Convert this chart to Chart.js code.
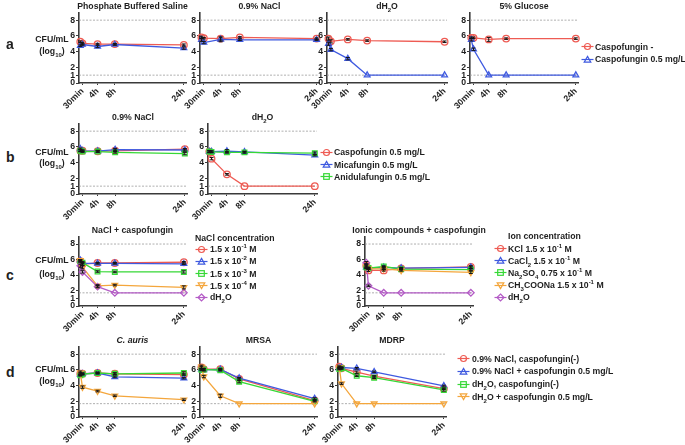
<!DOCTYPE html>
<html>
<head>
<meta charset="utf-8">
<script src="https://cdn.jsdelivr.net/npm/chart.js@4.4.1/dist/chart.umd.min.js"></script>
<style>
  body { margin: 0; background: #fff; }
  #fig { position: relative; width: 685px; height: 445px; overflow: hidden;
         font-family: "Liberation Sans", Arial, sans-serif; font-weight: bold; color: #1e1e1e; }
  #fig canvas { position: absolute; }
  .t { position: absolute; white-space: nowrap; font-size: 8.7px; line-height: 10px; }
  .ttl { position: absolute; width: 200px; white-space: nowrap; text-align: center; font-size: 8.7px; line-height: 10px; }
  .panel { position: absolute; font-size: 14px; line-height: 14px; }
  .ylab { position: absolute; width: 40px; text-align: center; font-size: 8.7px; line-height: 10px; }
  .ic { position: absolute; height: 9px; }
  .ic svg { display: block; }
  sub, sup { font-size: 6px; line-height: 0; }
</style>
</head>
<body>
<div id="fig"></div>
<script>
// time axis (hours) and tick labels
const times = [0, 0.5, 4, 8, 24];
const tickVals = [0.5, 4, 8, 24];
const tickLabels = ['30min', '4h', '8h', '24h'];
const yTicks = [0, 1, 2, 4, 6, 8];
const limitAB = [1, 8];
const limitCD = [1.7, 8];

// a: caspofungin -, caspofungin 0.5 mg/L
const pbsNone = [5.25, 5.05, 4.95, 4.95, 4.85], pbsNoneErr = [0.1, 0.12, 0.1, 0.1, 0.12];
const pbsCas = [4.75, 4.9, 4.65, 4.9, 4.45], pbsCasErr = [0.1, 0.1, 0.15, 0.1, 0.15];
const salNone = [5.8, 5.7, 5.65, 5.8, 5.65], salNoneErr = [0.15, 0.1, 0.2, 0.1, 0.1];
const salCas = [5.5, 5.15, 5.55, 5.5, 5.5], salCasErr = [0.2, 0.15, 0.3, 0.1, 0.1];
const dwNone = [5.65, 5.3, 5.55, 5.4, 5.25], dwNoneErr = [0.2, 0.2, 0.1, 0.1, 0.1];
const dwCas = [5.0, 4.25, 3.1, 1, 1], dwCasErr = [0.2, 0.15, 0.15, 0, 0];
const gluNone = [5.75, 5.75, 5.55, 5.65, 5.65], gluNoneErr = [0.1, 0.1, 0.25, 0.1, 0.1];
const gluCas = [5.5, 4.3, 1, 1, 1], gluCasErr = [0.15, 0.15, 0, 0, 0];

// b: echinocandins
const salCaspo = [5.55, 5.5, 5.45, 5.5, 5.7], salCaspoErr = [0.15, 0.1, 0.1, 0.1, 0.1];
const salMica = [5.75, 5.5, 5.45, 5.65, 5.6], salMicaErr = [0.1, 0.1, 0.1, 0.15, 0.15];
const salAnid = [5.5, 5.4, 5.4, 5.3, 5.15], salAnidErr = [0.1, 0.1, 0.1, 0.1, 0.15];
const dwCaspo = [5.4, 4.5, 2.5, 1, 1], dwCaspoErr = [0.1, 0.15, 0.1, 0, 0];
const dwMica = [5.4, 5.4, 5.45, 5.35, 4.95], dwMicaErr = [0.15, 0.1, 0.2, 0.1, 0.1];
const dwAnid = [5.4, 5.35, 5.3, 5.3, 5.2], dwAnidErr = [0.1, 0.1, 0.1, 0.1, 0.15];

// c: NaCl concentration
const nacl1 = [5.8, 5.4, 5.55, 5.55, 5.65], nacl1Err = [0.15, 0.2, 0.1, 0.1, 0.1];
const nacl2 = [5.9, 5.5, 5.5, 5.5, 5.45], nacl2Err = [0.1, 0.2, 0.1, 0.1, 0.1];
const nacl3 = [5.8, 5.6, 4.45, 4.4, 4.4], nacl3Err = [0.1, 0.1, 0.1, 0.1, 0.15];
const nacl4 = [5.9, 5.0, 2.6, 2.7, 2.4], nacl4Err = [0.1, 0.2, 0.15, 0.1, 0.2];
const naclDw = [5.2, 4.4, 2.5, 1.7, 1.7], naclDwErr = [0.2, 0.15, 0.15, 0, 0];
// c: ion concentration
const ionKcl = [5.2, 4.6, 4.6, 4.85, 5.05], ionKclErr = [0.2, 0.15, 0.1, 0.1, 0.15];
const ionCacl2 = [5.0, 4.9, 5.0, 4.9, 5.0], ionCacl2Err = [0.2, 0.1, 0.1, 0.1, 0.15];
const ionNa2so4 = [5.0, 4.9, 5.1, 4.75, 4.7], ionNa2so4Err = [0.15, 0.1, 0.1, 0.1, 0.1];
const ionAcetate = [5.2, 4.8, 4.8, 4.6, 4.35], ionAcetateErr = [0.2, 0.1, 0.1, 0.1, 0.15];
const ionDw = [5.6, 2.6, 1.7, 1.7, 1.7], ionDwErr = [0.15, 0.1, 0, 0, 0];

// d: other pathogens
const aurNacl = [5.5, 5.5, 5.6, 5.5, 5.4], aurNaclErr = [0.15, 0.1, 0.1, 0.15, 0.1];
const aurNaclCas = [5.4, 5.5, 5.6, 5.1, 4.95], aurNaclCasErr = [0.1, 0.1, 0.1, 0.1, 0.1];
const aurDw = [5.3, 5.45, 5.6, 5.5, 5.6], aurDwErr = [0.1, 0.1, 0.1, 0.1, 0.15];
const aurDwCas = [5.65, 3.8, 3.3, 2.7, 2.2], aurDwCasErr = [0.2, 0.15, 0.1, 0.1, 0.1];
const mrsaNacl = [6.3, 6.1, 6.1, 4.85, 2.1], mrsaNaclErr = [0.15, 0.1, 0.1, 0.15, 0.1];
const mrsaNaclCas = [6.1, 6.0, 6.05, 4.95, 2.35], mrsaNaclCasErr = [0.1, 0.15, 0.1, 0.1, 0.1];
const mrsaDw = [6.0, 6.05, 5.95, 4.5, 2.0], mrsaDwErr = [0.1, 0.1, 0.1, 0.15, 0.1];
const mrsaDwCas = [6.4, 5.15, 2.7, 1.7, 1.7], mrsaDwCasErr = [0.2, 0.15, 0.2, 0, 0];
const mdrpNacl = [6.4, 6.2, 5.7, 5.2, 3.6], mdrpNaclErr = [0.1, 0.1, 0.15, 0.1, 0.1];
const mdrpNaclCas = [6.2, 6.3, 6.2, 5.75, 3.95], mdrpNaclCasErr = [0.1, 0.1, 0.1, 0.1, 0.1];
const mdrpDw = [6.1, 6.2, 5.25, 5.0, 3.45], mdrpDwErr = [0.1, 0.1, 0.1, 0.1, 0.15];
const mdrpDwCas = [6.3, 4.25, 1.7, 1.7, 1.7], mdrpDwCasErr = [0.15, 0.1, 0, 0, 0];

// legend labels
const legendA = ['Caspofungin -', 'Caspofungin 0.5 mg/L'];
const legendB = ['Caspofungin 0.5 mg/L', 'Micafungin 0.5 mg/L', 'Anidulafungin 0.5 mg/L'];
const legendC1 = ['1.5 x 10<sup>-1</sup> M', '1.5 x 10<sup>-2</sup> M', '1.5 x 10<sup>-3</sup> M', '1.5 x 10<sup>-4</sup> M', 'dH<sub>2</sub>O'];
const legendC2 = ['KCl 1.5 x 10<sup>-1</sup> M', 'CaCl<sub>2</sub> 1.5 x 10<sup>-1</sup> M', 'Na<sub>2</sub>SO<sub>4</sub> 0.75 x 10<sup>-1</sup> M', 'CH<sub>3</sub>COONa 1.5 x 10<sup>-1</sup> M', 'dH<sub>2</sub>O'];
const legendD = ['0.9% NaCl, caspofungin(-)', '0.9% NaCl + caspofungin 0.5 mg/L', 'dH<sub>2</sub>O, caspofungin(-)', 'dH<sub>2</sub>O + caspofungin 0.5 mg/L'];

const INK = '#1e1e1e', AXIS = '#3a3a3a';
const FONT = '"Liberation Sans", Arial, sans-serif';
const RED = { c: '#ee5b53', p: 'circle', rot: 0 };
const BLUE = { c: '#3f5ae0', p: 'triangle', rot: 0 };
const GREEN = { c: '#36d836', p: 'rect', rot: 0 };
const ORANGE = { c: '#f4a63c', p: 'triangle', rot: 180 };
const PURPLE = { c: '#b45cc6', p: 'rectRot', rot: 0 };

const fig = document.getElementById('fig');

// dashed limit lines
Chart.register({
  id: 'refLines',
  beforeDatasetsDraw(chart, args, opts) {
    const { ctx, chartArea: a, scales: { y } } = chart;
    ctx.save();
    ctx.strokeStyle = '#9a9a9a'; ctx.lineWidth = 0.8; ctx.setLineDash([2, 1.5]);
    (opts.values || []).forEach(v => {
      const py = y.getPixelForValue(v);
      ctx.beginPath(); ctx.moveTo(a.left, py); ctx.lineTo(a.right, py); ctx.stroke();
    });
    ctx.restore();
  }
});

// error bars
Chart.register({
  id: 'errBars',
  afterDatasetsDraw(chart) {
    const { ctx, scales: { y } } = chart;
    ctx.save();
    ctx.strokeStyle = '#151515'; ctx.lineWidth = 1;
    chart.data.datasets.forEach((ds, i) => {
      if (!ds.err) return;
      chart.getDatasetMeta(i).data.forEach((pt, j) => {
        const e = ds.err[j];
        if (!e) return;
        const v = ds.data[j].y;
        const y1 = y.getPixelForValue(v + e), y2 = y.getPixelForValue(v - e);
        ctx.beginPath();
        ctx.moveTo(pt.x, y1); ctx.lineTo(pt.x, y2);
        ctx.moveTo(pt.x - 2, y1); ctx.lineTo(pt.x + 2, y1);
        ctx.moveTo(pt.x - 2, y2); ctx.lineTo(pt.x + 2, y2);
        ctx.stroke();
      });
    });
    ctx.restore();
  }
});

function series(vals, err, sty, i) {
  return {
    data: times.map((t, k) => ({ x: t, y: vals[k] })),
    err,
    order: -i,
    borderColor: sty.c, borderWidth: 1.3,
    pointStyle: sty.p, pointRotation: sty.rot, pointRadius: 3.3,
    pointBorderColor: sty.c, pointBorderWidth: 1.3,
    pointBackgroundColor: 'rgba(255,255,255,0)',
    clip: false
  };
}

function addText(cls, html, left, cy, h, extra) {
  const d = document.createElement('div');
  d.className = cls; d.innerHTML = html;
  d.style.left = left + 'px'; d.style.top = (cy - h / 2) + 'px';
  if (extra) Object.assign(d.style, extra);
  fig.appendChild(d);
}

function makeChart(cfg) {
  const YW = 14, PL = 16, PR = 8, XH = 28, TOP = 4;
  const w = PL + YW + (cfg.R - cfg.L) + PR;
  const h = TOP + (cfg.B - cfg.T) + XH;
  const cv = document.createElement('canvas');
  cv.width = w; cv.height = h;
  cv.style.width = w + 'px'; cv.style.height = h + 'px';
  cv.style.left = (cfg.L - YW - PL) + 'px';
  cv.style.top = (cfg.T - TOP) + 'px';
  fig.appendChild(cv);
  // panel title, centred over the plot area
  addText('ttl', cfg.title, (cfg.L + cfg.R) / 2 - 100, cfg.T - 5.5, 10,
    { fontStyle: cfg.italic ? 'italic' : 'normal' });
  const tickFont = { family: FONT, size: 8.7, weight: 'bold' };
  new Chart(cv, {
    type: 'line',
    data: { datasets: cfg.series.map((s, i) => series(s[0], s[1], s[2], i)) },
    options: {
      responsive: false, animation: false,
      layout: { padding: { left: PL, right: PR, top: TOP, bottom: 0 } },
      plugins: {
        legend: { display: false }, tooltip: { enabled: false },
        refLines: { values: cfg.lod }
      },
      scales: {
        x: {
          type: 'linear', min: -0.3, max: 24.5,
          afterBuildTicks: s => { s.ticks = tickVals.map(v => ({ value: v })); },
          afterFit: s => { s.height = XH; s.paddingLeft = 0; s.paddingRight = 0; },
          ticks: { autoSkip: false, minRotation: 45, maxRotation: 45, padding: 1, color: INK, font: tickFont,
                   callback: (v, i) => tickLabels[i] },
          grid: { drawOnChartArea: false, drawTicks: true, tickLength: 2, color: AXIS },
          border: { color: AXIS, width: 1.6 }
        },
        y: {
          min: 0, max: 9,
          afterBuildTicks: s => { s.ticks = yTicks.map(v => ({ value: v })); },
          afterFit: s => { s.width = YW; s.paddingTop = 0; s.paddingBottom = 0; },
          ticks: { autoSkip: false, padding: 1, color: INK, font: tickFont },
          grid: { drawOnChartArea: false, drawTicks: true, tickLength: 3, color: AXIS },
          border: { color: AXIS, width: 1.6 }
        }
      }
    }
  });
}

// row a
makeChart({ L: 79, R: 186, T: 11, B: 83, title: 'Phosphate Buffered Saline', lod: limitAB,
  series: [[pbsNone, pbsNoneErr, RED], [pbsCas, pbsCasErr, BLUE]] });
makeChart({ L: 200, R: 319, T: 11, B: 83, title: '0.9% NaCl', lod: limitAB,
  series: [[salNone, salNoneErr, RED], [salCas, salCasErr, BLUE]] });
makeChart({ L: 327, R: 447, T: 11, B: 83, title: 'dH<sub>2</sub>O', lod: limitAB,
  series: [[dwNone, dwNoneErr, RED], [dwCas, dwCasErr, BLUE]] });
makeChart({ L: 470, R: 578, T: 11, B: 83, title: '5% Glucose', lod: limitAB,
  series: [[gluNone, gluNoneErr, RED], [gluCas, gluCasErr, BLUE]] });
// row b
makeChart({ L: 79, R: 187, T: 122, B: 194, title: '0.9% NaCl', lod: limitAB,
  series: [[salCaspo, salCaspoErr, RED], [salMica, salMicaErr, BLUE], [salAnid, salAnidErr, GREEN]] });
makeChart({ L: 208, R: 317, T: 122, B: 194, title: 'dH<sub>2</sub>O', lod: limitAB,
  series: [[dwCaspo, dwCaspoErr, RED], [dwMica, dwMicaErr, BLUE], [dwAnid, dwAnidErr, GREEN]] });
// row c
makeChart({ L: 79, R: 186, T: 235, B: 306, title: 'NaCl + caspofungin', lod: limitCD,
  series: [[nacl1, nacl1Err, RED], [nacl2, nacl2Err, BLUE], [nacl3, nacl3Err, GREEN], [nacl4, nacl4Err, ORANGE], [naclDw, naclDwErr, PURPLE]] });
makeChart({ L: 365, R: 473, T: 235, B: 306, title: 'Ionic compounds + caspofungin', lod: limitCD,
  series: [[ionKcl, ionKclErr, RED], [ionCacl2, ionCacl2Err, BLUE], [ionNa2so4, ionNa2so4Err, GREEN], [ionAcetate, ionAcetateErr, ORANGE], [ionDw, ionDwErr, PURPLE]] });
// row d
makeChart({ L: 79, R: 186, T: 345, B: 417, title: 'C. auris', italic: true, lod: limitCD,
  series: [[aurNacl, aurNaclErr, RED], [aurNaclCas, aurNaclCasErr, BLUE], [aurDw, aurDwErr, GREEN], [aurDwCas, aurDwCasErr, ORANGE]] });
makeChart({ L: 200, R: 317, T: 345, B: 417, title: 'MRSA', lod: limitCD,
  series: [[mrsaNacl, mrsaNaclErr, RED], [mrsaNaclCas, mrsaNaclCasErr, BLUE], [mrsaDw, mrsaDwErr, GREEN], [mrsaDwCas, mrsaDwCasErr, ORANGE]] });
makeChart({ L: 338, R: 446, T: 345, B: 417, title: 'MDRP', lod: limitCD,
  series: [[mdrpNacl, mdrpNaclErr, RED], [mdrpNaclCas, mdrpNaclCasErr, BLUE], [mdrpDw, mdrpDwErr, GREEN], [mdrpDwCas, mdrpDwCasErr, ORANGE]] });

// legends
function icon(sty) {
  let m;
  if (sty.p === 'circle') m = '<circle cx="6.5" cy="4.5" r="3"/>';
  else if (sty.p === 'rect') m = '<rect x="3.7" y="1.7" width="5.6" height="5.6"/>';
  else if (sty.p === 'rectRot') m = '<polygon points="6.5,1 10,4.5 6.5,8 3,4.5"/>';
  else if (sty.rot === 180) m = '<polygon points="6.5,7.6 9.8,1.8 3.2,1.8"/>';
  else m = '<polygon points="6.5,1.4 9.8,7.2 3.2,7.2"/>';
  return '<svg width="13" height="9" viewBox="0 0 13 9"><line x1="0.5" y1="4.5" x2="12.5" y2="4.5" stroke="' + sty.c +
    '" stroke-width="1.2"/><g fill="none" stroke="' + sty.c + '" stroke-width="1.2">' + m + '</g></svg>';
}
function legend(labels, styles, iconX, textX, ys) {
  labels.forEach((lab, i) => {
    addText('ic', icon(styles[i]), iconX, ys[i], 9);
    addText('t', lab, textX, ys[i], 10);
  });
}

[['a', 44], ['b', 157], ['c', 275], ['d', 372]].forEach(p => addText('panel', p[0], 6, p[1], 14));
[[39, 51], [152, 163], [260, 274], [369, 381]].forEach(r => {
  addText('ylab', 'CFU/mL', 32, r[0], 10);
  addText('ylab', '(log<sub>10</sub>)', 32, r[1], 10);
});

legend(legendA, [RED, BLUE], 581, 595, [46.5, 59]);
legend(legendB, [RED, BLUE, GREEN], 320, 334, [152, 164.5, 176.5]);
addText('t', 'NaCl concentration', 195, 237.5, 10);
legend(legendC1, [RED, BLUE, GREEN, ORANGE, PURPLE], 195, 210, [249, 261, 273.5, 285.5, 297]);
addText('t', 'Ion concentration', 508, 236, 10);
legend(legendC2, [RED, BLUE, GREEN, ORANGE, PURPLE], 494, 508, [248.5, 260.5, 272.5, 285, 297]);
legend(legendD, [RED, BLUE, GREEN, ORANGE], 457, 472, [358.5, 371, 384, 396.5]);
</script>
</body>
</html>
